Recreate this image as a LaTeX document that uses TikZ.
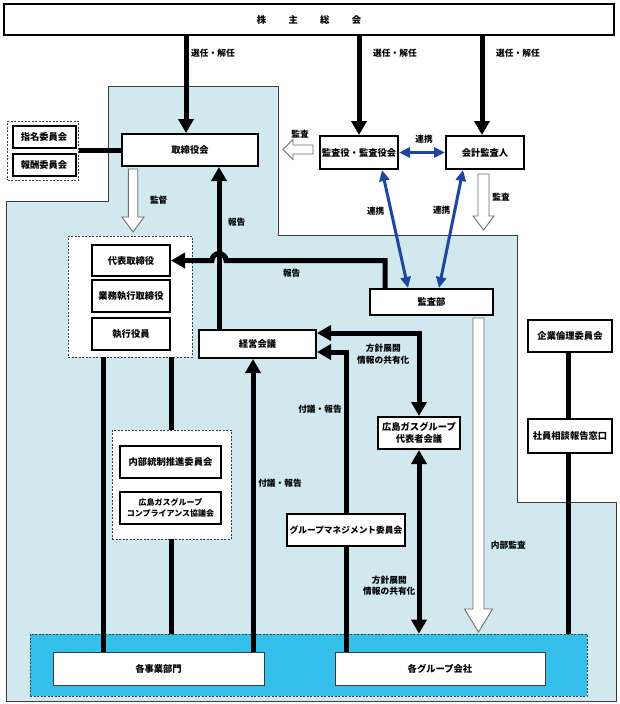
\documentclass[tikz,border=0pt]{standalone}
\usepackage{fontspec}
\setmainfont{Noto Sans CJK JP}
\usetikzlibrary{arrows.meta,positioning,calc}
\definecolor{GovernLight}{HTML}{D0E8EE}
\definecolor{GovernBright}{HTML}{35BFEB}
\definecolor{GovernBlue}{RGB}{28,70,160}
\definecolor{GovernFrame}{RGB}{60,60,60}

\begin{document}
\begin{tikzpicture}[x=1pt,y=-1pt,
  box/.style={draw,line width=2pt,fill=white,inner sep=0pt,align=center,
    font=\fontsize{9.3}{12.3}\selectfont\bfseries},
  flatbox/.style={box,draw=GovernFrame,line width=.8pt},
  grp/.style={draw=GovernFrame,dash pattern=on 2pt off 1.5pt,line width=.7pt,fill=white},
  lbl/.style={inner sep=0pt,align=center,font=\fontsize{8.7}{11.5}\selectfont\bfseries},
  thickline/.style={line width=5pt},
  headed/.style={-{Triangle[length=14pt,width=15pt]}},
  twoheaded/.style={{Triangle[length=14pt,width=15pt]}-{Triangle[length=14pt,width=15pt]}},
  bluelink/.style={GovernBlue,line width=3pt,{Triangle[length=11pt,width=10pt]}-{Triangle[length=11pt,width=10pt]}},
  openarrow/.style={draw=GovernFrame!75,fill=white,line width=.9pt}]

  \useasboundingbox (0,0) rectangle (620,704);
  \fill[white] (0,0) rectangle (620,704);
  \draw[GovernFrame,fill=GovernLight,line width=.8pt]
    (108,86) -- (278,86) -- (278,235) -- (517,235) -- (517,502) -- (616,502)
    -- (616,701) -- (6,701) -- (6,201) -- (108,201) -- cycle;
  \node[grp,fill=GovernBright,minimum width=557pt,minimum height=62pt] (botzone) at (308.5,665) {};

  % boxes
  \node[box,minimum width=610pt,minimum height=31pt] (meeting) at (309,19.5)
    {株\hspace{2.4em}主\hspace{2.4em}総\hspace{2.4em}会};
  \node[box,minimum width=136pt,minimum height=32pt] (board) at (190,150) {取締役会};
  \node[grp,minimum width=71pt,minimum height=59pt] (nomgrp) at (43.2,150.5) {};
  \node[box,minimum width=63pt,minimum height=22pt] (nominate) at (44,137) {指名委員会};
  \node[box,minimum width=63pt,minimum height=22pt] (reward) at (44,165.3) {報酬委員会};
  \node[box,minimum width=78pt,minimum height=33pt] (auditors) at (359,152.5) {監査役・監査役会};
  \node[box,minimum width=78pt,minimum height=33pt] (accountant) at (485,152.5) {会計監査人};
  \node[grp,minimum width=124pt,minimum height=121pt] (execgrp) at (130,296.5) {};
  \node[box,minimum width=78pt,minimum height=31pt] (president) at (131,260.5) {代表取締役};
  \node[box,minimum width=78pt,minimum height=32pt] (directors) at (131,296) {業務執行取締役};
  \node[box,minimum width=78pt,minimum height=32pt] (officers) at (131,334) {執行役員};
  \node[box,minimum width=117pt,minimum height=28pt] (mgmt) at (257.5,344) {経営会議};
  \node[box,minimum width=123pt,minimum height=26pt] (auditdept) at (431.5,302) {監査部};
  \node[box,minimum width=84pt,minimum height=32pt] (ethics) at (570,336) {企業倫理委員会};
  \node[box,minimum width=84pt,minimum height=34pt] (hotline) at (570,436) {社員相談報告窓口};
  \node[box,minimum width=82pt,minimum height=32pt] (repmeet) at (419,433) {広島ガスグループ\\代表者会議};
  \node[box,minimum width=118pt,minimum height=32pt,font=\fontsize{8.7}{11}\selectfont\bfseries]
    (gmc) at (346,530) {グループマネジメント委員会};
  \node[grp,minimum width=119pt,minimum height=109pt] (icgrp) at (171.5,484.5) {};
  \node[box,minimum width=101pt,minimum height=32pt] (icc) at (170.5,462) {内部統制推進委員会};
  \node[box,minimum width=101pt,minimum height=32pt,font=\fontsize{8}{11.6}\selectfont\bfseries]
    (compl) at (170.5,508) {広島ガスグループ\\コンプライアンス協議会};
  \node[flatbox,minimum width=211pt,minimum height=33pt] (divisions) at (158.5,668.5) {各事業部門};
  \node[flatbox,minimum width=210pt,minimum height=33pt] (affiliates) at (440,668.5) {各グループ会社};

  % connectors
  \coordinate (voteA) at (186,0);
  \coordinate (voteC) at (482,0);
  \coordinate (upR) at (219,0);
  \coordinate (upS) at (385,0);
  \coordinate (downE) at (103,0);
  \coordinate (upK) at (253,0);
  \coordinate (downW) at (568,0);
  \draw[thickline,headed] (voteA |- meeting.south) -- (voteA |- board.north);
  \draw[thickline,headed] (meeting.south -| auditors.north) -- (auditors.north);
  \draw[thickline,headed] (voteC |- meeting.south) -- (voteC |- accountant.north);
  \draw[thickline] (nomgrp.east) -- (nomgrp.east -| board.west);
  \draw[thickline,headed] (upR |- mgmt.north) -- (upR |- board.south);
  \draw[thickline,headed] (upS |- auditdept.north) -- (upS |- president.east)
    -- ([xshift=7pt]upR |- president.east) arc[start angle=0,end angle=180,radius=7pt]
    -- (president.east);
  \draw[thickline,twoheaded] ([yshift=11pt]mgmt.east) -| (repmeet.north);
  \draw[thickline,headed] (gmc.north) |- ([yshift=-8pt]mgmt.east);
  \draw[thickline,twoheaded] (repmeet.south) -- (repmeet.south |- botzone.north);
  \draw[thickline] (gmc.south) -- (gmc.south |- affiliates.north);
  \draw[thickline,headed] (upK |- divisions.north) -- (upK |- mgmt.south);
  \draw[thickline] (downE |- execgrp.south) -- (downE |- divisions.north);
  \draw[thickline] (icgrp.north |- execgrp.south) -- (icgrp.north);
  \draw[thickline] (icgrp.south) -- (icgrp.south |- botzone.north);
  \draw[thickline] (ethics.south -| downW) -- (hotline.north -| downW);
  \draw[thickline] (hotline.south -| downW) -- (downW |- botzone.north);
  \draw[bluelink] (auditors.east) -- (accountant.west);
  \draw[bluelink] ([xshift=23pt]auditors.south) -- ([xshift=-23.5pt]auditdept.north);
  \draw[bluelink] ([xshift=-22pt]accountant.south) -- ([xshift=7.5pt]auditdept.north);

  % open arrows
  \draw[openarrow] ([xshift=-61.7pt,yshift=-2pt]board.south) -- ++(9.4,0) -- ++(0,48)
    -- ++(6.3,0) -- ++(-11,15) -- ++(-11,-15) -- ++(6.3,0) -- cycle;
  \draw[openarrow] ([xshift=-6pt,yshift=7.5pt]auditors.west) -- ++(0,9) -- ++(-20,0)
    -- ++(0,5.5) -- ++(-10,-10) -- ++(10,-10) -- ++(0,5.5) -- cycle;
  \draw[openarrow] ([xshift=-7pt,yshift=-4pt]accountant.south) -- ++(11,0) -- ++(0,42)
    -- ++(5,0) -- ++(-10.5,14) -- ++(-10.5,-14) -- ++(5,0) -- cycle;
  \draw[openarrow] ([xshift=41.5pt,yshift=-2pt]auditdept.south) -- ++(11,0) -- ++(0,291)
    -- ++(8.5,0) -- ++(-14,23) -- ++(-14,-23) -- ++(8.5,0) -- cycle;

  % labels
  \node[lbl,anchor=west] (elect1) at (191,53) {選任・解任};
  \node[lbl,anchor=west] (elect2) at (373,53) {選任・解任};
  \node[lbl,anchor=west] (elect3) at (496,53) {選任・解任};
  \node[lbl] (audit1) at (300,134) {監査};
  \node[lbl] (coop1) at (424,139) {連携};
  \node[lbl] (coop2) at (375.7,210.7) {連携};
  \node[lbl] (coop3) at (441.7,210) {連携};
  \node[lbl] (audit2) at (501,197.3) {監査};
  \node[lbl] (oversee) at (158.7,200) {監督};
  \node[lbl] (report1) at (236.7,221.7) {報告};
  \node[lbl] (report2) at (291.7,273.3) {報告};
  \node[lbl] (policy1) at (383.3,354) {方針展開\\情報の共有化};
  \node[lbl] (submit1) at (320,409.3) {付議・報告};
  \node[lbl] (submit2) at (280,483.3) {付議・報告};
  \node[lbl] (policy2) at (389.3,585.7) {方針展開\\情報の共有化};
  \node[lbl] (internal) at (508.3,545) {内部監査};
\end{tikzpicture}
\end{document}
